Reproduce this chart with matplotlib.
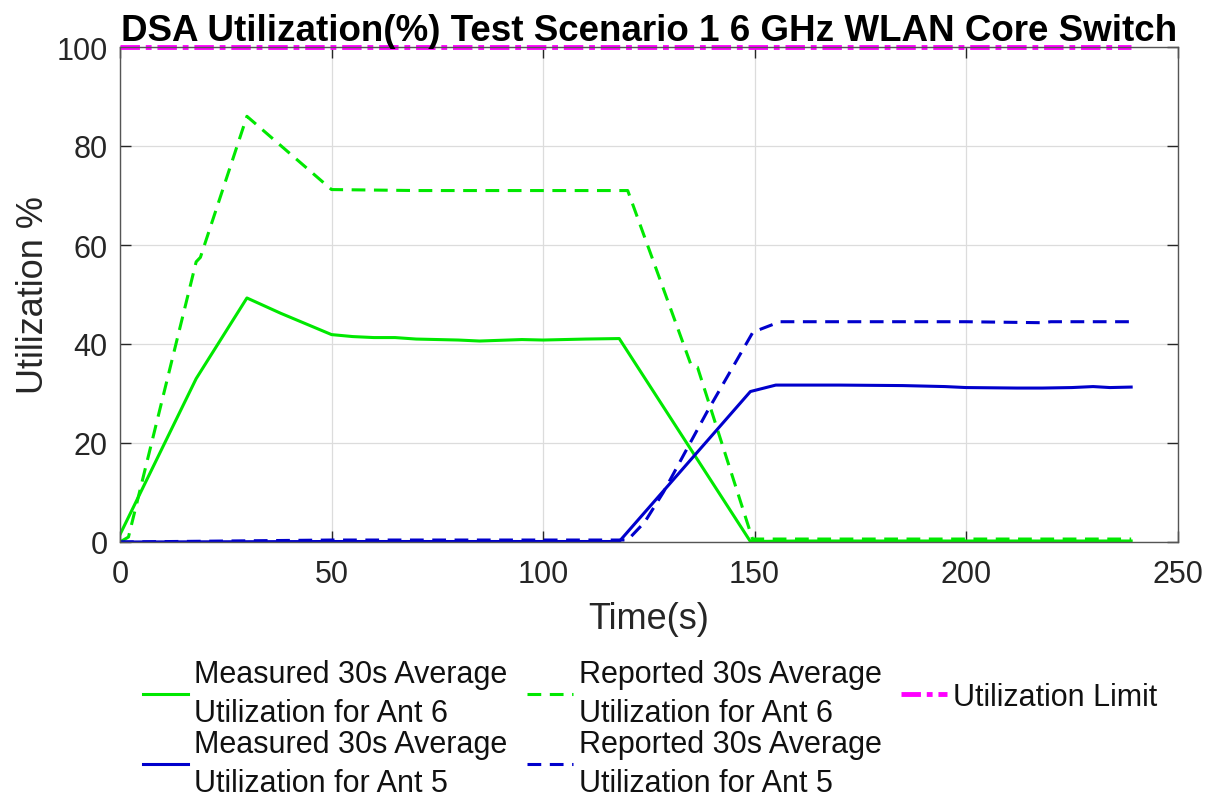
import matplotlib
matplotlib.use("Agg")
import matplotlib.pyplot as plt

plt.rcParams['font.family'] = ['Liberation Sans', 'DejaVu Sans']

# ---- data ----
t_meas6 = [0, 18, 30, 38, 50, 55, 60, 65, 70, 80, 85, 95, 100, 110, 118, 149, 160, 180, 200, 220, 239]
u_meas6 = [1.5, 33, 49.3, 46.2, 41.9, 41.5, 41.3, 41.3, 41.0, 40.8, 40.6, 40.9, 40.8, 41.0, 41.1, 0.1, 0.2, 0.2, 0.2, 0.2, 0.2]

t_rep6 = [0, 2, 18, 19, 30, 50, 70, 100, 120, 135, 136.5, 149.5, 160, 180, 200, 220, 239]
u_rep6 = [0.0, 1.0, 56.6, 57.5, 86.0, 71.2, 71.0, 71.0, 71.0, 35.7, 35.3, 0.6, 0.6, 0.6, 0.6, 0.6, 0.6]

t_meas5 = [0, 50, 100, 118, 149, 155, 170, 185, 195, 200, 212, 218, 225, 230, 234, 239]
u_meas5 = [0.0, 0.1, 0.1, 0.1, 30.4, 31.7, 31.7, 31.6, 31.4, 31.2, 31.1, 31.1, 31.2, 31.4, 31.2, 31.3]

t_rep5 = [0, 50, 100, 120, 124, 128.4, 138.7, 149.6, 156, 180, 200, 218, 220, 239]
u_rep5 = [0.0, 0.4, 0.4, 0.4, 4.0, 10.0, 26.2, 42.4, 44.5, 44.5, 44.5, 44.3, 44.5, 44.5]

t_limit = [0, 239]
u_limit = [100, 100]

labels = ['Measured 30s Average\nUtilization for Ant 6',
          'Measured 30s Average\nUtilization for Ant 5',
          'Reported 30s Average\nUtilization for Ant 6',
          'Reported 30s Average\nUtilization for Ant 5',
          'Utilization Limit']

title = 'DSA Utilization(%) Test Scenario 1 6 GHz WLAN Core Switch'
xlabel = 'Time(s)'
ylabel = 'Utilization %'
xticks = [0, 50, 100, 150, 200, 250]
yticks = [0, 20, 40, 60, 80, 100]

# ---- figure ----
W, H = 1207, 804
fig = plt.figure(figsize=(W / 100, H / 100), dpi=100)
ax = fig.add_axes([120 / W, 1 - 543 / H, (1177.7 - 120) / W, (543 - 48) / H])

green = '#00e800'
blue = '#0000cc'
magenta = '#ff00ff'

l1, = ax.plot(t_meas6, u_meas6, color=green, lw=2.2, solid_joinstyle='round')
l3, = ax.plot(t_rep6, u_rep6, color=green, lw=2.2, dashes=(4.5, 2.8))
l2, = ax.plot(t_meas5, u_meas5, color=blue, lw=2.2, solid_joinstyle='round')
l4, = ax.plot(t_rep5, u_rep5, color=blue, lw=2.2, dashes=(4.5, 2.8))
l5, = ax.plot(t_limit, u_limit, color=magenta, lw=3.5, dashes=(4.0, 1.2, 1.2, 1.2), clip_on=False)

ax.set_xlim(0, 250)
ax.set_ylim(0, 100)
ax.set_xticks(xticks)
ax.set_yticks(yticks)
ax.grid(True, color='#dcdcdc', lw=0.9)
ax.set_axisbelow(True)
ax.tick_params(direction='in', length=8, width=1, colors='#262626', labelsize=22,
               top=True, right=True, labelcolor='#262626')
ax.tick_params(axis='x', pad=12)
ax.tick_params(axis='y', pad=9)
for s in ax.spines.values():
    s.set_color('#555555')
    s.set_linewidth(1.0)

ax.set_xlabel(xlabel, fontsize=26, color='#262626', labelpad=9)
ax.set_ylabel(ylabel, fontsize=26, color='#262626', labelpad=4)
ax.set_title(title, fontsize=26.5, fontweight='bold', pad=5)

handles = [l1, l2, l3, l4, l5]
leg = fig.legend(handles, labels, loc='upper center', bbox_to_anchor=(650 / W, 1 - 660 / H),
                 ncol=3, fontsize=22, frameon=False, handlelength=1.48, handletextpad=0.2,
                 columnspacing=0.65, labelspacing=0.05, borderpad=0, borderaxespad=0)
for t in leg.get_texts():
    t.set_linespacing(1.37)
    t.set_color('#111111')

fig.savefig('out.png', dpi=100)
